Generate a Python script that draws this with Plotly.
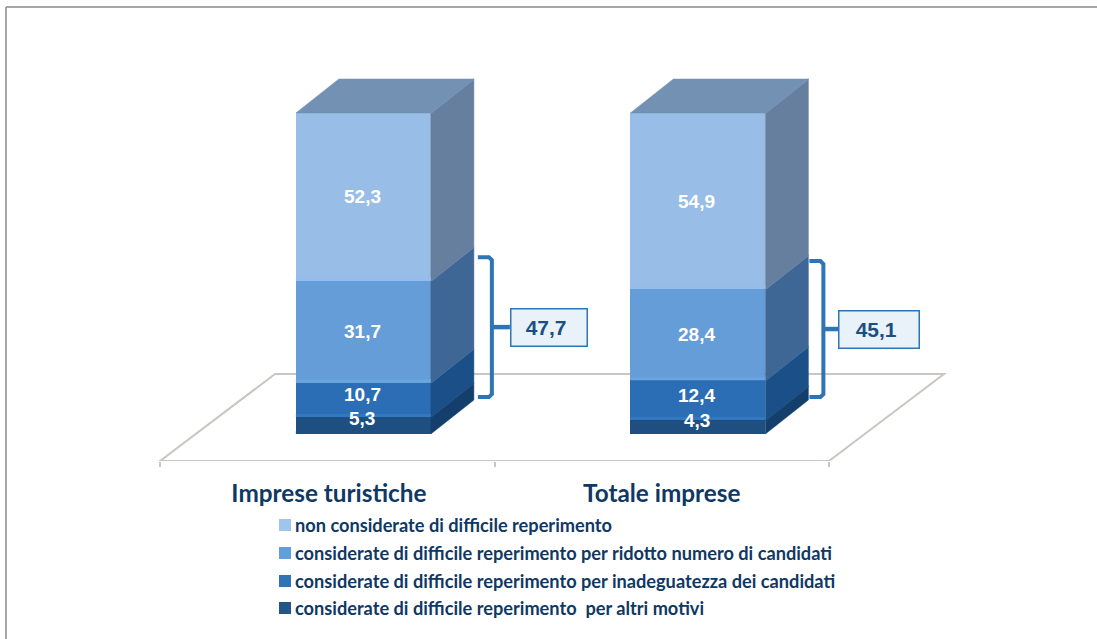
import plotly.graph_objects as go

categories = ["Imprese turistiche", "Totale imprese"]
series_names = [
    "considerate di difficile reperimento  per altri motivi",
    "considerate di difficile reperimento per inadeguatezza dei candidati",
    "considerate di difficile reperimento per ridotto numero di candidati",
    "non considerate di difficile reperimento",
]
altri = [5.3, 4.3]
inadeguatezza = [10.7, 12.4]
ridotto = [31.7, 28.4]
non_difficile = [52.3, 54.9]
totals_difficile = [47.7, 45.1]
series_values = [altri, inadeguatezza, ridotto, non_difficile]
label_text = [["5,3", "4,3"], ["10,7", "12,4"], ["31,7", "28,4"], ["52,3", "54,9"]]
total_text = ["47,7", "45,1"]

front_colors = ["#1f4f80", "#2c6eb5", "#659dd8", "#98bde7"]
bottom_glow = ["#1f4f80", "#3079c0", "#6ba5e0", "#93bdec"]
side_colors = ["#143f6c", "#1b4f87", "#3e6795", "#667f9f"]
side_edges = ["#2a5a8e", "#4a78ab", "#6f93bd", "#7d9bc0"]
top_color = "#7391b3"
legend_colors = ["#25568a", "#2e74b6", "#5f9fdc", "#a0c4ea"]
label_shift = [7, 5, 0, 0]

W, H = 1097, 639
PX_X = 334.5
PX_Y = 3.21
X0_PX, Y0_PX, AXIS_PX = 160, 434, 461
BAR_POS = 0.608
BAR_W = 135 / PX_X
DX, DY = 43 / PX_X, 34 / PX_Y
FLOOR_DX, FLOOR_DY = 115 / PX_X, 87 / PX_Y
FLOOR_Y = -(AXIS_PX - Y0_PX) / PX_Y
NAVY = "#0f3864"
FLOOR = "#c9c6c3"
BLUE = "#2e75b6"
BRACKET_GAP = [18, 15]
BRACKET_ARM = [4, 1]
BRACKET_TOP = [7.4, 8.8]
BOX_GAP = [18, 15]
BOX_W = [77, 81]

fig = go.Figure()
xs = [i + BAR_POS for i in range(len(categories))]

for s, vals in enumerate(series_values):
    fig.add_trace(go.Bar(
        x=xs, y=vals, width=BAR_W, name=series_names[s], showlegend=False,
        marker=dict(color=front_colors[s], line=dict(width=0)),
    ))

annotations = []
for i, x in enumerate(xs):
    xr = x + BAR_W / 2
    xl = x - BAR_W / 2
    base = 0
    for s, vals in enumerate(series_values):
        v = vals[i]
        top = base + v
        fig.add_trace(go.Scatter(
            x=[xr, xr + DX, xr + DX, xr, xr], y=[base, base + DY, top + DY, top, base],
            mode="lines", fill="toself", fillcolor=side_colors[s],
            line=dict(color=side_colors[s], width=0.5), hoverinfo="skip", showlegend=False,
        ))
        fig.add_trace(go.Scatter(
            x=[xr, xr + DX], y=[top, top + DY], mode="lines",
            line=dict(color=side_edges[s], width=1.5), hoverinfo="skip", showlegend=False,
        ))
        fig.add_trace(go.Scatter(
            x=[xl, xr], y=[base + 0.5, base + 0.5], mode="lines",
            line=dict(color=bottom_glow[s], width=3), hoverinfo="skip", showlegend=False,
        ))
        annotations.append(dict(
            x=x, y=base + v / 2, xref="x", yref="y", text=f"<b>{label_text[s][i]}</b>",
            showarrow=False, yshift=label_shift[s], xshift=-1,
            font=dict(family="Liberation Sans", size=19, color="white"),
        ))
        base = top
    fig.add_trace(go.Scatter(
        x=[xl, xl + DX, xr + DX, xr, xl], y=[base, base + DY, base + DY, base, base],
        mode="lines", fill="toself", fillcolor=top_color, line=dict(color=top_color, width=0.5),
        hoverinfo="skip", showlegend=False,
    ))
    # bracket and total box
    edge = xr + DX
    bx = edge + BRACKET_GAP[i] / PX_X
    arm = edge + BRACKET_ARM[i] / PX_X
    cx, cy = 3 / PX_X, 3 / PX_Y
    b_top, b_bot = totals_difficile[i] + BRACKET_TOP[i], 11.5
    b_mid = (b_top + b_bot) / 2
    box_l = bx + BOX_GAP[i] / PX_X
    fig.add_trace(go.Scatter(
        x=[arm, bx - cx, bx, bx, bx - cx, arm],
        y=[b_top, b_top, b_top - cy, b_bot + cy, b_bot, b_bot], mode="lines",
        line=dict(color=BLUE, width=4), hoverinfo="skip", showlegend=False,
    ))
    fig.add_trace(go.Scatter(
        x=[bx, box_l], y=[b_mid, b_mid], mode="lines",
        line=dict(color=BLUE, width=4.5), hoverinfo="skip", showlegend=False,
    ))
    annotations.append(dict(
        x=box_l, y=b_mid - 0.2, xref="x", yref="y", xanchor="left", showarrow=False,
        text=f"<b>{total_text[i]}</b>&nbsp;", width=BOX_W[i] - 2, height=36,
        bgcolor="#e9f1f9", bordercolor=BLUE, borderwidth=1.5, borderpad=0,
        font=dict(family="Liberation Sans", size=21, color="#1b4f82"),
    ))

# floor drawn behind the bars
n = len(categories)
shapes = [dict(
    type="path", xref="x", yref="y", layer="below",
    path=(f"M0,{FLOOR_Y} L{FLOOR_DX},{FLOOR_Y + FLOOR_DY} "
          f"L{n + FLOOR_DX},{FLOOR_Y + FLOOR_DY} L{n},{FLOOR_Y} Z"),
    fillcolor="white", line=dict(color=FLOOR, width=2),
)]
# frame
plot_h = AXIS_PX
shapes.append(dict(type="line", xref="paper", yref="paper", x0=6 / W, x1=1,
                   y0=(AXIS_PX - 7) / plot_h, y1=(AXIS_PX - 7) / plot_h,
                   line=dict(color="#8a8a8a", width=1.5)))
shapes.append(dict(type="line", xref="paper", yref="paper", x0=6 / W, x1=6 / W,
                   y0=(AXIS_PX - 7) / plot_h, y1=(AXIS_PX - H) / plot_h,
                   line=dict(color="#8a8a8a", width=1.5)))

# legend
legend_y = [608, 581, 553, 525]
for s in range(4):
    yc = legend_y[s]
    shapes.append(dict(type="rect", xref="paper", yref="paper",
                       x0=279 / W, x1=291 / W,
                       y0=(AXIS_PX - yc - 6) / plot_h, y1=(AXIS_PX - yc + 6) / plot_h,
                       fillcolor=legend_colors[s], line=dict(width=0)))
    annotations.append(dict(
        x=295 / W, y=(AXIS_PX - yc) / plot_h, xref="paper", yref="paper", xanchor="left",
        yanchor="middle", xshift=-2, showarrow=False, text=f"<b>{series_names[s]}</b>",
        font=dict(family="Lato", size=18.2, color=NAVY),
    ))

fig.update_layout(
    width=W, height=H, barmode="stack", bargap=0, showlegend=False,
    paper_bgcolor="white", plot_bgcolor="white",
    margin=dict(l=0, r=0, t=0, b=H - AXIS_PX, pad=0),
    shapes=shapes, annotations=annotations,
    xaxis=dict(
        range=[-X0_PX / PX_X, (W - X0_PX) / PX_X], showgrid=False, zeroline=False, showline=False,
        tickmode="array", tickvals=[0.505, 1.5], ticktext=[f"<b>{c}</b>" for c in categories],
        ticks="", ticklabelstandoff=16,
        tickfont=dict(family="Lato", size=24.3, color=NAVY),
        minor=dict(tickmode="array", tickvals=list(range(n + 1)), ticks="outside",
                   ticklen=5, tickcolor=FLOOR, tickwidth=1.5, showgrid=False),
    ),
    yaxis=dict(range=[FLOOR_Y, Y0_PX / PX_Y], visible=False),
    hovermode=False,
)
fig.write_html("out.html", config=dict(displayModeBar=False),
               post_script="document.body.style.margin='0';document.documentElement.style.overflow='hidden';")
